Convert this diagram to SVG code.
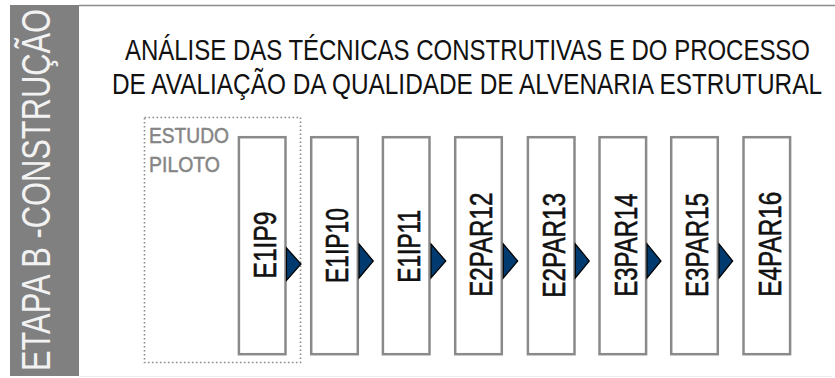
<svg xmlns="http://www.w3.org/2000/svg" width="835" height="378" viewBox="0 0 835 378">
<style>
.box{fill:#fff;stroke:#8a8a8a;stroke-width:2.5}
.lbl{font-family:"Liberation Sans",Arial,sans-serif;font-size:30.5px;fill:#111;stroke:#111;stroke-width:0.6;text-anchor:middle}
.ttl{font-family:"Liberation Sans",Arial,sans-serif;font-size:29.5px;fill:#111}
.arr{fill:#003a6e;stroke:#000;stroke-width:1.2;stroke-linejoin:miter}
.pil{font-family:"Liberation Sans",Arial,sans-serif;font-size:22px;fill:#858585;stroke:#858585;stroke-width:0.5}
</style>
<rect x="0" y="0" width="835" height="378" fill="#fff"/>
<g id="band">
<rect x="10" y="5" width="69" height="371" fill="#808080"/>
<text transform="translate(49.5,190) rotate(-90)" font-family="Liberation Sans, Arial, sans-serif" font-size="40" fill="#f2f2f2" text-anchor="middle" textLength="362" lengthAdjust="spacingAndGlyphs">ETAPA B -CONSTRUÇÃO</text>
</g>
<line x1="79" y1="5.5" x2="835" y2="5.5" stroke="#8c8c8c" stroke-width="1.5"/>
<line x1="79" y1="376.5" x2="832" y2="376.5" stroke="#ececec" stroke-width="1"/>
<g id="title">
<text class="ttl" x="125" y="60" textLength="685" lengthAdjust="spacingAndGlyphs">ANÁLISE DAS TÉCNICAS CONSTRUTIVAS E DO PROCESSO</text>
<text class="ttl" x="112" y="94" textLength="710" lengthAdjust="spacingAndGlyphs">DE AVALIAÇÃO DA QUALIDADE DE ALVENARIA ESTRUTURAL</text>
</g>
<g id="estudo-piloto">
<rect x="144.5" y="117.5" width="156" height="245" fill="none" stroke="#8c8c8c" stroke-width="1.6" stroke-dasharray="1.6 2.4"/>
<text class="pil" x="149" y="143.3" textLength="80" lengthAdjust="spacingAndGlyphs">ESTUDO</text>
<text class="pil" x="149" y="171.5" textLength="71" lengthAdjust="spacingAndGlyphs">PILOTO</text>
</g>
<g id="E1IP9"><rect class="box" x="238.9" y="137.2" width="46.6" height="217"/><text class="lbl" transform="translate(276,245) rotate(-90)" textLength="67" lengthAdjust="spacingAndGlyphs">E1IP9</text></g>
<g id="E1IP10"><rect class="box" x="311.2" y="137.2" width="46.6" height="217"/><text class="lbl" transform="translate(348.3,245.5) rotate(-90)" textLength="75" lengthAdjust="spacingAndGlyphs">E1IP10</text></g>
<g id="E1IP11"><rect class="box" x="382.9" y="137.2" width="46.6" height="217"/><text class="lbl" transform="translate(420,246.3) rotate(-90)" textLength="72.7" lengthAdjust="spacingAndGlyphs">E1IP11</text></g>
<g id="E2PAR12"><rect class="box" x="455.2" y="137.2" width="46.6" height="217"/><text class="lbl" transform="translate(492.3,244.7) rotate(-90)" textLength="104" lengthAdjust="spacingAndGlyphs">E2PAR12</text></g>
<g id="E2PAR13"><rect class="box" x="527.9" y="137.2" width="46.6" height="217"/><text class="lbl" transform="translate(565,245.3) rotate(-90)" textLength="104.7" lengthAdjust="spacingAndGlyphs">E2PAR13</text></g>
<g id="E3PAR14"><rect class="box" x="599.5" y="137.2" width="46.6" height="217"/><text class="lbl" transform="translate(636.6,245) rotate(-90)" textLength="103.3" lengthAdjust="spacingAndGlyphs">E3PAR14</text></g>
<g id="E3PAR15"><rect class="box" x="671.2" y="137.2" width="46.6" height="217"/><text class="lbl" transform="translate(708.3,245) rotate(-90)" textLength="104" lengthAdjust="spacingAndGlyphs">E3PAR15</text></g>
<g id="E4PAR16"><rect class="box" x="743.5" y="137.2" width="46.6" height="217"/><text class="lbl" transform="translate(780.6,244.2) rotate(-90)" textLength="105" lengthAdjust="spacingAndGlyphs">E4PAR16</text></g>
<g id="connectors">
<polygon class="arr" points="286.5,248 301,264 286.5,280.5"/>
<polygon class="arr" points="359,244 373.3,261 359,278"/>
<polygon class="arr" points="431,244 445.8,261 431,278"/>
<polygon class="arr" points="503.3,244 517.7,261 503.3,278"/>
<polygon class="arr" points="575.3,244 589.3,261 575.3,278"/>
<polygon class="arr" points="647,244 661,261 647,278"/>
<polygon class="arr" points="719,244 732.7,261 719,278"/>
</g>
</svg>
